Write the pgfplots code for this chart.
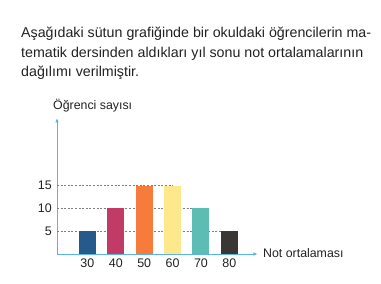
\documentclass[border=0pt]{standalone}
\usepackage{pgfplots}
\pgfplotsset{compat=1.18}
\usepackage{fontspec}
\setmainfont{Liberation Sans}
\usetikzlibrary{arrows.meta}
\definecolor{axblue}{HTML}{5AB4E5}
\definecolor{cA}{HTML}{265A8A}
\definecolor{cB}{HTML}{C23B66}
\definecolor{cC}{HTML}{F77B3A}
\definecolor{cD}{HTML}{FDE98C}
\definecolor{cE}{HTML}{5DBDB4}
\definecolor{cF}{HTML}{3A3633}
\definecolor{txt}{HTML}{222222}
\begin{document}
\begin{tikzpicture}[x=1bp,y=1bp]
\useasboundingbox (0,0) rectangle (381,284);
\fill[white] (0,0) rectangle (381,284);
\begin{scope}[every node/.style={anchor=base west, inner sep=0pt, text=txt, font=\fontsize{14.3}{16}\selectfont}]
\node at (21,246.3) {Aşağıdaki sütun grafiğinde bir okuldaki öğrencilerin ma-};
\node at (21,226.7) {tematik dersinden aldıkları yıl sonu not ortalamalarının};
\node at (21,208) {dağılımı verilmiştir.};
\node[font=\fontsize{12.4}{14}\selectfont] at (53,175) {Öğrenci sayısı};
\node[font=\fontsize{12.4}{14}\selectfont] at (263,26.3) {Not ortalaması};
\end{scope}
\begin{axis}[at={(57bp,30bp)}, anchor=south west,
  x=28.4bp, y=4.55bp,
  xmin=-1.07, xmax=6.0, ymin=0, ymax=29.9,
  axis x line=bottom, axis y line=left,
  axis line style={axblue, line width=0.9pt, -{Latex[length=4.5bp,width=3.5bp]}},
  xtick={0,1,2,3,4,5}, xticklabels={30,40,50,60,70,80},
  ytick={5,10,15},
  major tick length=0pt,
  tick style={draw=none},
  /pgf/number format/assume math mode=true,
  ticklabel style={font=\fontsize{12.5}{14}\selectfont, text=txt},
  xticklabel style={anchor=base, inner sep=0pt, yshift=-14bp},
  yticklabel style={anchor=east, inner sep=0pt, xshift=-5bp},
  clip=false]
\addplot[sharp plot, no marks, gray, line width=0.6pt, dash pattern=on 2bp off 1.6bp] coordinates {(-1.07,15) (3,15)};
\addplot[sharp plot, no marks, gray, line width=0.6pt, dash pattern=on 2bp off 1.6bp] coordinates {(-1.07,10) (4,10)};
\addplot[sharp plot, no marks, gray, line width=0.6pt, dash pattern=on 2bp off 1.6bp] coordinates {(-1.07,5) (5,5)};
\addplot[ybar, bar width=17bp, bar shift=0pt, fill=cA, draw=none] coordinates {(0,5)};
\addplot[ybar, bar width=17bp, bar shift=0pt, fill=cB, draw=none] coordinates {(1,10)};
\addplot[ybar, bar width=17bp, bar shift=0pt, fill=cC, draw=none] coordinates {(2,15)};
\addplot[ybar, bar width=17bp, bar shift=0pt, fill=cD, draw=none] coordinates {(3,15)};
\addplot[ybar, bar width=17bp, bar shift=0pt, fill=cE, draw=none] coordinates {(4,10)};
\addplot[ybar, bar width=17bp, bar shift=0pt, fill=cF, draw=none] coordinates {(5,5)};
\end{axis}
\end{tikzpicture}
\end{document}
